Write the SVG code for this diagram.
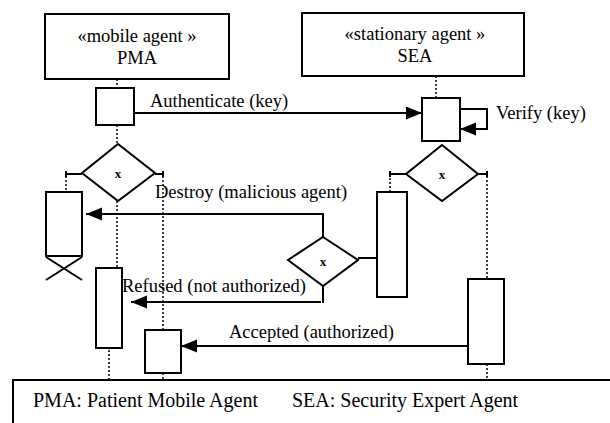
<svg xmlns="http://www.w3.org/2000/svg" width="610" height="423" viewBox="0 0 610 423">
  <style>
    .box { fill: #fff; stroke: #000; stroke-width: 2; }
    .life { fill: none; stroke: #000; stroke-width: 1.5; stroke-dasharray: 2 2; }
    .msg { fill: none; stroke: #000; stroke-width: 2; }
    .lbl { font-family: "Liberation Serif", "Times New Roman", serif; font-size: 18.5px; fill: #000; }
    .guard { font-family: "Liberation Serif", "Times New Roman", serif; font-size: 13px; font-weight: bold; fill: #000; text-anchor: middle; }
    .legend { font-family: "Liberation Serif", "Times New Roman", serif; font-size: 20px; fill: #000; }
  </style>
  <defs>
    <marker id="head" markerUnits="userSpaceOnUse" markerWidth="17" markerHeight="14" refX="16" refY="6.5" orient="auto">
      <path d="M0,0 L16,6.5 L0,13 z" fill="#000"/>
    </marker>
  </defs>

  <rect width="610" height="423" fill="#fff"/>

  <!-- lifelines -->
  <g id="lifelines">
    <path class="life" d="M117,79 V88 M117,125 V144 M117,201 V268 M109,350 V380"/>
    <path class="life" d="M66,176 V192 M163,176 V330 M163,373 V380"/>
    <path class="life" d="M436,76 V98 M390,174 V192 M487,176 V279 M487,364 V380"/>
  </g>

  <!-- agents -->
  <g id="pma">
    <rect class="box" x="45" y="14" width="184" height="65"/>
    <text class="lbl" x="137" y="42" text-anchor="middle">«mobile agent »</text>
    <text class="lbl" x="137" y="64" text-anchor="middle">PMA</text>
  </g>
  <g id="sea">
    <rect class="box" x="302" y="13" width="222" height="63"/>
    <text class="lbl" x="415" y="40" text-anchor="middle">«stationary agent »</text>
    <text class="lbl" x="415" y="62" text-anchor="middle">SEA</text>
  </g>

  <!-- activations -->
  <g id="pma-auth"><rect class="box" x="96" y="88" width="38" height="37"/></g>
  <g id="sea-verify"><rect class="box" x="422" y="98" width="38" height="43"/></g>
  <g id="pma-destroyed">
    <rect class="box" x="46" y="192" width="36" height="64"/>
    <path class="msg" d="M46,257 L82,280 M82,257 L46,280"/>
  </g>
  <g id="pma-refused"><rect class="box" x="96" y="268" width="26" height="80"/></g>
  <g id="pma-accepted"><rect class="box" x="145" y="330" width="36" height="43"/></g>
  <g id="sea-check"><rect class="box" x="377" y="192" width="30" height="105"/></g>
  <g id="sea-reply"><rect class="box" x="468" y="279" width="36" height="85"/></g>

  <!-- decisions -->
  <g id="pma-choice">
    <polygon class="box" points="118,144 155,173 118,201 82,173"/>
    <text class="guard" x="118" y="178">x</text>
  </g>
  <g id="sea-choice">
    <polygon class="box" points="442,145 478,174 442,201 406,174"/>
    <text class="guard" x="442" y="179">x</text>
  </g>
  <g id="sea-auth-choice">
    <polygon class="box" points="323,237 358,260 323,286 288,260"/>
    <text class="guard" x="323" y="266">x</text>
  </g>

  <!-- connectors -->
  <g id="connectors">
    <path class="msg" d="M134,113 H422" marker-end="url(#head)"/>
    <path class="msg" d="M460,109 H487 V129 H460" marker-end="url(#head)"/>
    <path class="msg" d="M82,174 H66 M66,171 V177 M155,174 H163 M163,171 V177"/>
    <path class="msg" d="M406,174 H390 M390,171 V177 M478,174 H487 M487,171 V177"/>
    <path class="msg" d="M358,258 H377"/>
    <path class="msg" d="M323,237 V214 H86" marker-end="url(#head)"/>
    <path class="msg" d="M323,286 V303"/>
    <path class="msg" d="M321,302 H131" marker-end="url(#head)"/>
    <path class="msg" d="M468,346 H181" marker-end="url(#head)"/>
  </g>

  <!-- message labels -->
  <g id="labels">
    <text class="lbl" x="150" y="107">Authenticate (key)</text>
    <text class="lbl" x="496" y="119">Verify (key)</text>
    <text class="lbl" x="155" y="198">Destroy (malicious agent)</text>
    <text class="lbl" x="122" y="292">Refused (not authorized)</text>
    <text class="lbl" x="229" y="338">Accepted (authorized)</text>
  </g>

  <!-- legend -->
  <g id="legend">
    <rect class="box" x="13" y="380" width="620" height="60"/>
    <text class="legend" y="407"><tspan x="33">PMA: Patient Mobile Agent</tspan><tspan x="292">SEA: Security Expert Agent</tspan></text>
  </g>
</svg>
